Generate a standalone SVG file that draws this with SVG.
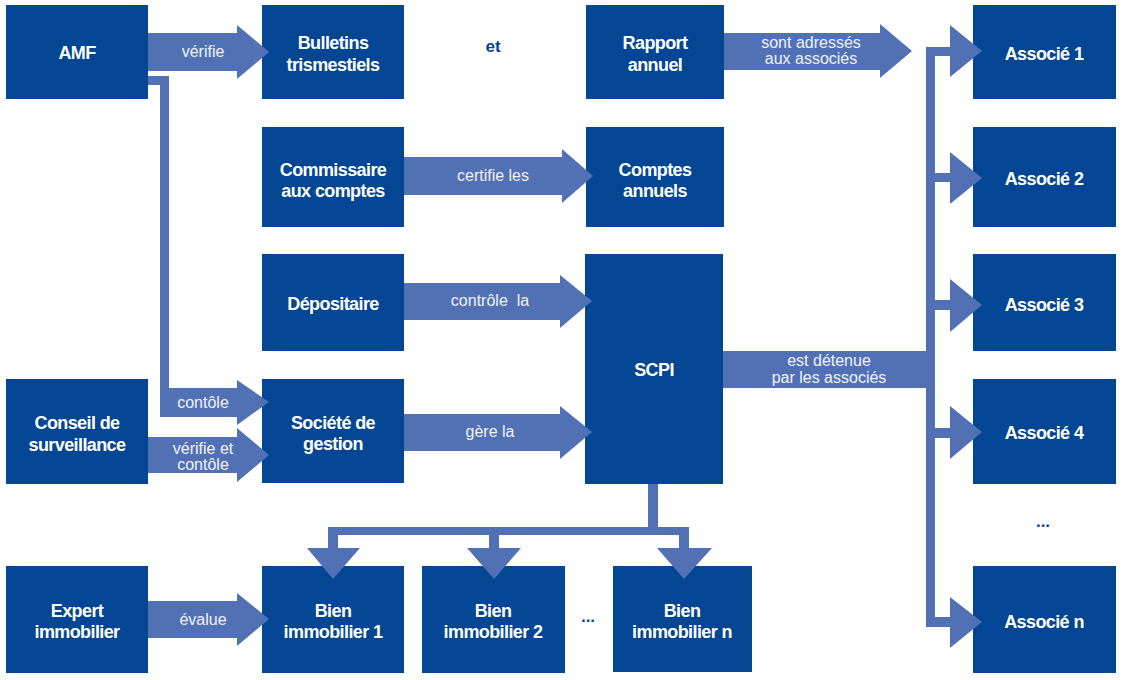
<svg xmlns="http://www.w3.org/2000/svg" width="1124" height="680" viewBox="0 0 1124 680">
<style>
.box{fill:#034694}
.n{font-family:"Liberation Sans",Arial,sans-serif;font-weight:bold;font-size:18px;letter-spacing:-0.6px;fill:#ffffff;text-anchor:middle}
.c{fill:#5271b5}
.l{font-family:"Liberation Sans",Arial,sans-serif;font-size:16px;fill:#f0f3fa;text-anchor:middle}
.d{font-family:"Liberation Sans",Arial,sans-serif;font-weight:bold;font-size:17px;fill:#034694;text-anchor:middle}
</style>
<rect width="1124" height="680" fill="#ffffff"/>
<g id="nodes">
<g id="amf"><rect class="box" x="6" y="5" width="142" height="94"/><text class="n" x="77" y="59">AMF</text></g>
<g id="bulletins"><rect class="box" x="262" y="5" width="142" height="94"/><text class="n" x="333" y="49">Bulletins</text><text class="n" x="333" y="71">trismestiels</text></g>
<g id="rapport"><rect class="box" x="586" y="5" width="138" height="94"/><text class="n" x="655" y="49">Rapport</text><text class="n" x="655" y="71">annuel</text></g>
<g id="commissaire"><rect class="box" x="262" y="127" width="142" height="100"/><text class="n" x="333" y="176">Commissaire</text><text class="n" x="333" y="197">aux comptes</text></g>
<g id="comptes"><rect class="box" x="586" y="127" width="138" height="100"/><text class="n" x="655" y="176">Comptes</text><text class="n" x="655" y="197">annuels</text></g>
<g id="depositaire"><rect class="box" x="262" y="254" width="142" height="97"/><text class="n" x="333" y="310">Dépositaire</text></g>
<g id="scpi"><rect class="box" x="585" y="254" width="138" height="230"/><text class="n" x="654" y="376">SCPI</text></g>
<g id="conseil"><rect class="box" x="6" y="379" width="142" height="105"/><text class="n" x="77" y="429">Conseil de</text><text class="n" x="77" y="451">surveillance</text></g>
<g id="societe"><rect class="box" x="262" y="379" width="142" height="104"/><text class="n" x="333" y="429">Société de</text><text class="n" x="333" y="450">gestion</text></g>
<g id="expert"><rect class="box" x="6" y="566" width="142" height="107"/><text class="n" x="77" y="617">Expert</text><text class="n" x="77" y="638">immobilier</text></g>
<g id="bien1"><rect class="box" x="262" y="566" width="142" height="107"/><text class="n" x="333" y="617">Bien</text><text class="n" x="333" y="638">immobilier 1</text></g>
<g id="bien2"><rect class="box" x="422" y="566" width="143" height="107"/><text class="n" x="493" y="617">Bien</text><text class="n" x="493" y="638">immobilier 2</text></g>
<g id="bienn"><rect class="box" x="613" y="566" width="139" height="106"/><text class="n" x="682" y="617">Bien</text><text class="n" x="682" y="638">immobilier n</text></g>
<g id="associe1"><rect class="box" x="973" y="5" width="143" height="94"/><text class="n" x="1044" y="60">Associé 1</text></g>
<g id="associe2"><rect class="box" x="973" y="127" width="143" height="100"/><text class="n" x="1044" y="185">Associé 2</text></g>
<g id="associe3"><rect class="box" x="973" y="254" width="143" height="97"/><text class="n" x="1044" y="311">Associé 3</text></g>
<g id="associe4"><rect class="box" x="973" y="379" width="143" height="105"/><text class="n" x="1044" y="439">Associé 4</text></g>
<g id="associen"><rect class="box" x="973" y="566" width="143" height="107"/><text class="n" x="1044" y="628">Associé n</text></g>
<text class="d" x="493" y="52">et</text>
<text class="d" x="588" y="622">...</text>
<text class="d" x="1043" y="527">...</text>
</g>
<g id="connectors">
<polygon class="c" points="148,33 237,33 237,25 269,52 237,79 237,71 148,71"/>
<polygon class="c" points="404,157 562,157 562,149 593,176 562,203 562,195 404,195"/>
<polygon class="c" points="724,33 880,33 880,24 912,51 880,78 880,70 724,70"/>
<polygon class="c" points="404,283 560,283 560,275 592,301 560,328 560,320 404,320"/>
<polygon class="c" points="404,414 560,414 560,406 592,432 560,459 560,451 404,451"/>
<polygon class="c" points="148,437 237,437 237,428 269,455 237,482 237,473 148,473"/>
<polygon class="c" points="148,601 237,601 237,593 269,619 237,646 237,638 148,638"/>
<polygon class="c" points="148,76 169,76 169,388 237,388 237,380 269,402 237,425 237,417 160,417 160,85 148,85"/>
<rect class="c" x="723" y="351" width="212" height="37"/>
<rect class="c" x="926" y="47" width="9" height="580"/>
<rect class="c" x="926" y="47" width="26" height="9"/><polygon class="c" points="950,25 982,51 950,77"/>
<rect class="c" x="926" y="173" width="26" height="9"/><polygon class="c" points="950,152 982,178 950,204"/>
<rect class="c" x="926" y="300" width="26" height="10"/><polygon class="c" points="950,279 982,305 950,332"/>
<rect class="c" x="926" y="428" width="26" height="10"/><polygon class="c" points="950,406 982,432 950,459"/>
<rect class="c" x="926" y="617" width="26" height="10"/><polygon class="c" points="950,597 982,622 950,648"/>
<rect class="c" x="648" y="484" width="10" height="51"/>
<rect class="c" x="328" y="527" width="361" height="8"/>
<rect class="c" x="328" y="527" width="10" height="23"/><polygon class="c" points="307,548 360,548 333,579"/>
<rect class="c" x="489" y="527" width="10" height="23"/><polygon class="c" points="467,548 521,548 494,579"/>
<rect class="c" x="679" y="527" width="10" height="23"/><polygon class="c" points="657,548 712,548 684,579"/>
<text class="l" x="203" y="57">vérifie</text>
<text class="l" x="493" y="181">certifie les</text>
<text class="l" x="811" y="48">sont adressés</text>
<text class="l" x="811" y="64">aux associés</text>
<text class="l" x="490" y="306" xml:space="preserve">contrôle  la</text>
<text class="l" x="490" y="437">gère la</text>
<text class="l" x="203" y="408">contôle</text>
<text class="l" x="203" y="454">vérifie et</text>
<text class="l" x="203" y="470">contôle</text>
<text class="l" x="829" y="366">est détenue</text>
<text class="l" x="829" y="383">par les associés</text>
<text class="l" x="203" y="625">évalue</text>
</g>
</svg>
